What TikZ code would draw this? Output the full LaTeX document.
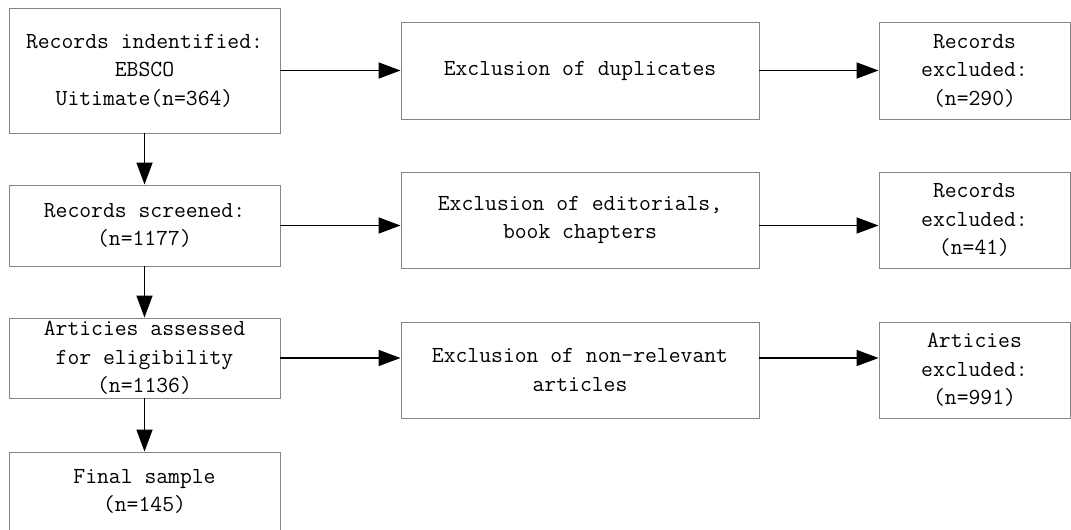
\documentclass[tikz,border=0pt]{standalone}
\usetikzlibrary{arrows.meta}
\begin{document}
\begin{tikzpicture}[x=1pt,y=-1pt,
  box/.style={draw=black!48,line width=0.9pt,inner sep=0pt,align=center,
    font=\fontsize{23}{28.5}\selectfont\ttfamily},
  arr/.style={line width=1.6pt,-{Triangle[length=22pt,width=16pt]}}]
\useasboundingbox (0,0) rectangle (1071,530);
% left column
\node[box,minimum width=271pt,minimum height=125pt] (A) at (144.5,70.5) {Records indentified:\\EBSCO\\Uitimate(n=364)};
\node[box,minimum width=271pt,minimum height=81pt] (B) at (144.5,225.5) {Records screened:\\(n=1177)};
\node[box,minimum width=271pt,minimum height=80pt] (C) at (144.5,358) {Articies assessed\\for eligibility\\(n=1136)};
\node[box,minimum width=271pt,minimum height=79pt] (D) at (144.5,491.5) {Final sample\\(n=145)};
% middle column
\node[box,minimum width=358pt,minimum height=97pt] (M1) at (580,70.5) {Exclusion of duplicates};
\node[box,minimum width=358pt,minimum height=96pt] (M2) at (580,220) {Exclusion of editorials,\\book chapters};
\node[box,minimum width=358pt,minimum height=96pt] (M3) at (580,370) {Exclusion of non-relevant\\articles};
% right column
\node[box,minimum width=191pt,minimum height=97pt] (R1) at (974.5,70.5) {Records\\excluded:\\(n=290)};
\node[box,minimum width=191pt,minimum height=96pt] (R2) at (974.5,220) {Records\\excluded:\\(n=41)};
\node[box,minimum width=191pt,minimum height=96pt] (R3) at (974.5,370) {Articies\\excluded:\\(n=991)};
% vertical arrows
\draw[arr] (A.south) -- (B.north);
\draw[arr] (B.south) -- (C.north);
\draw[arr] (C.south) -- (D.north);
% horizontal arrows
\draw[arr] (A.east) -- (A.east -| M1.west);
\draw[arr] (A.east -| M1.east) -- (A.east -| R1.west);
\draw[arr] (B.east) -- (B.east -| M2.west);
\draw[arr] (B.east -| M2.east) -- (B.east -| R2.west);
\draw[arr] (C.east) -- (C.east -| M3.west);
\draw[arr] (C.east -| M3.east) -- (C.east -| R3.west);
\end{tikzpicture}
\end{document}
